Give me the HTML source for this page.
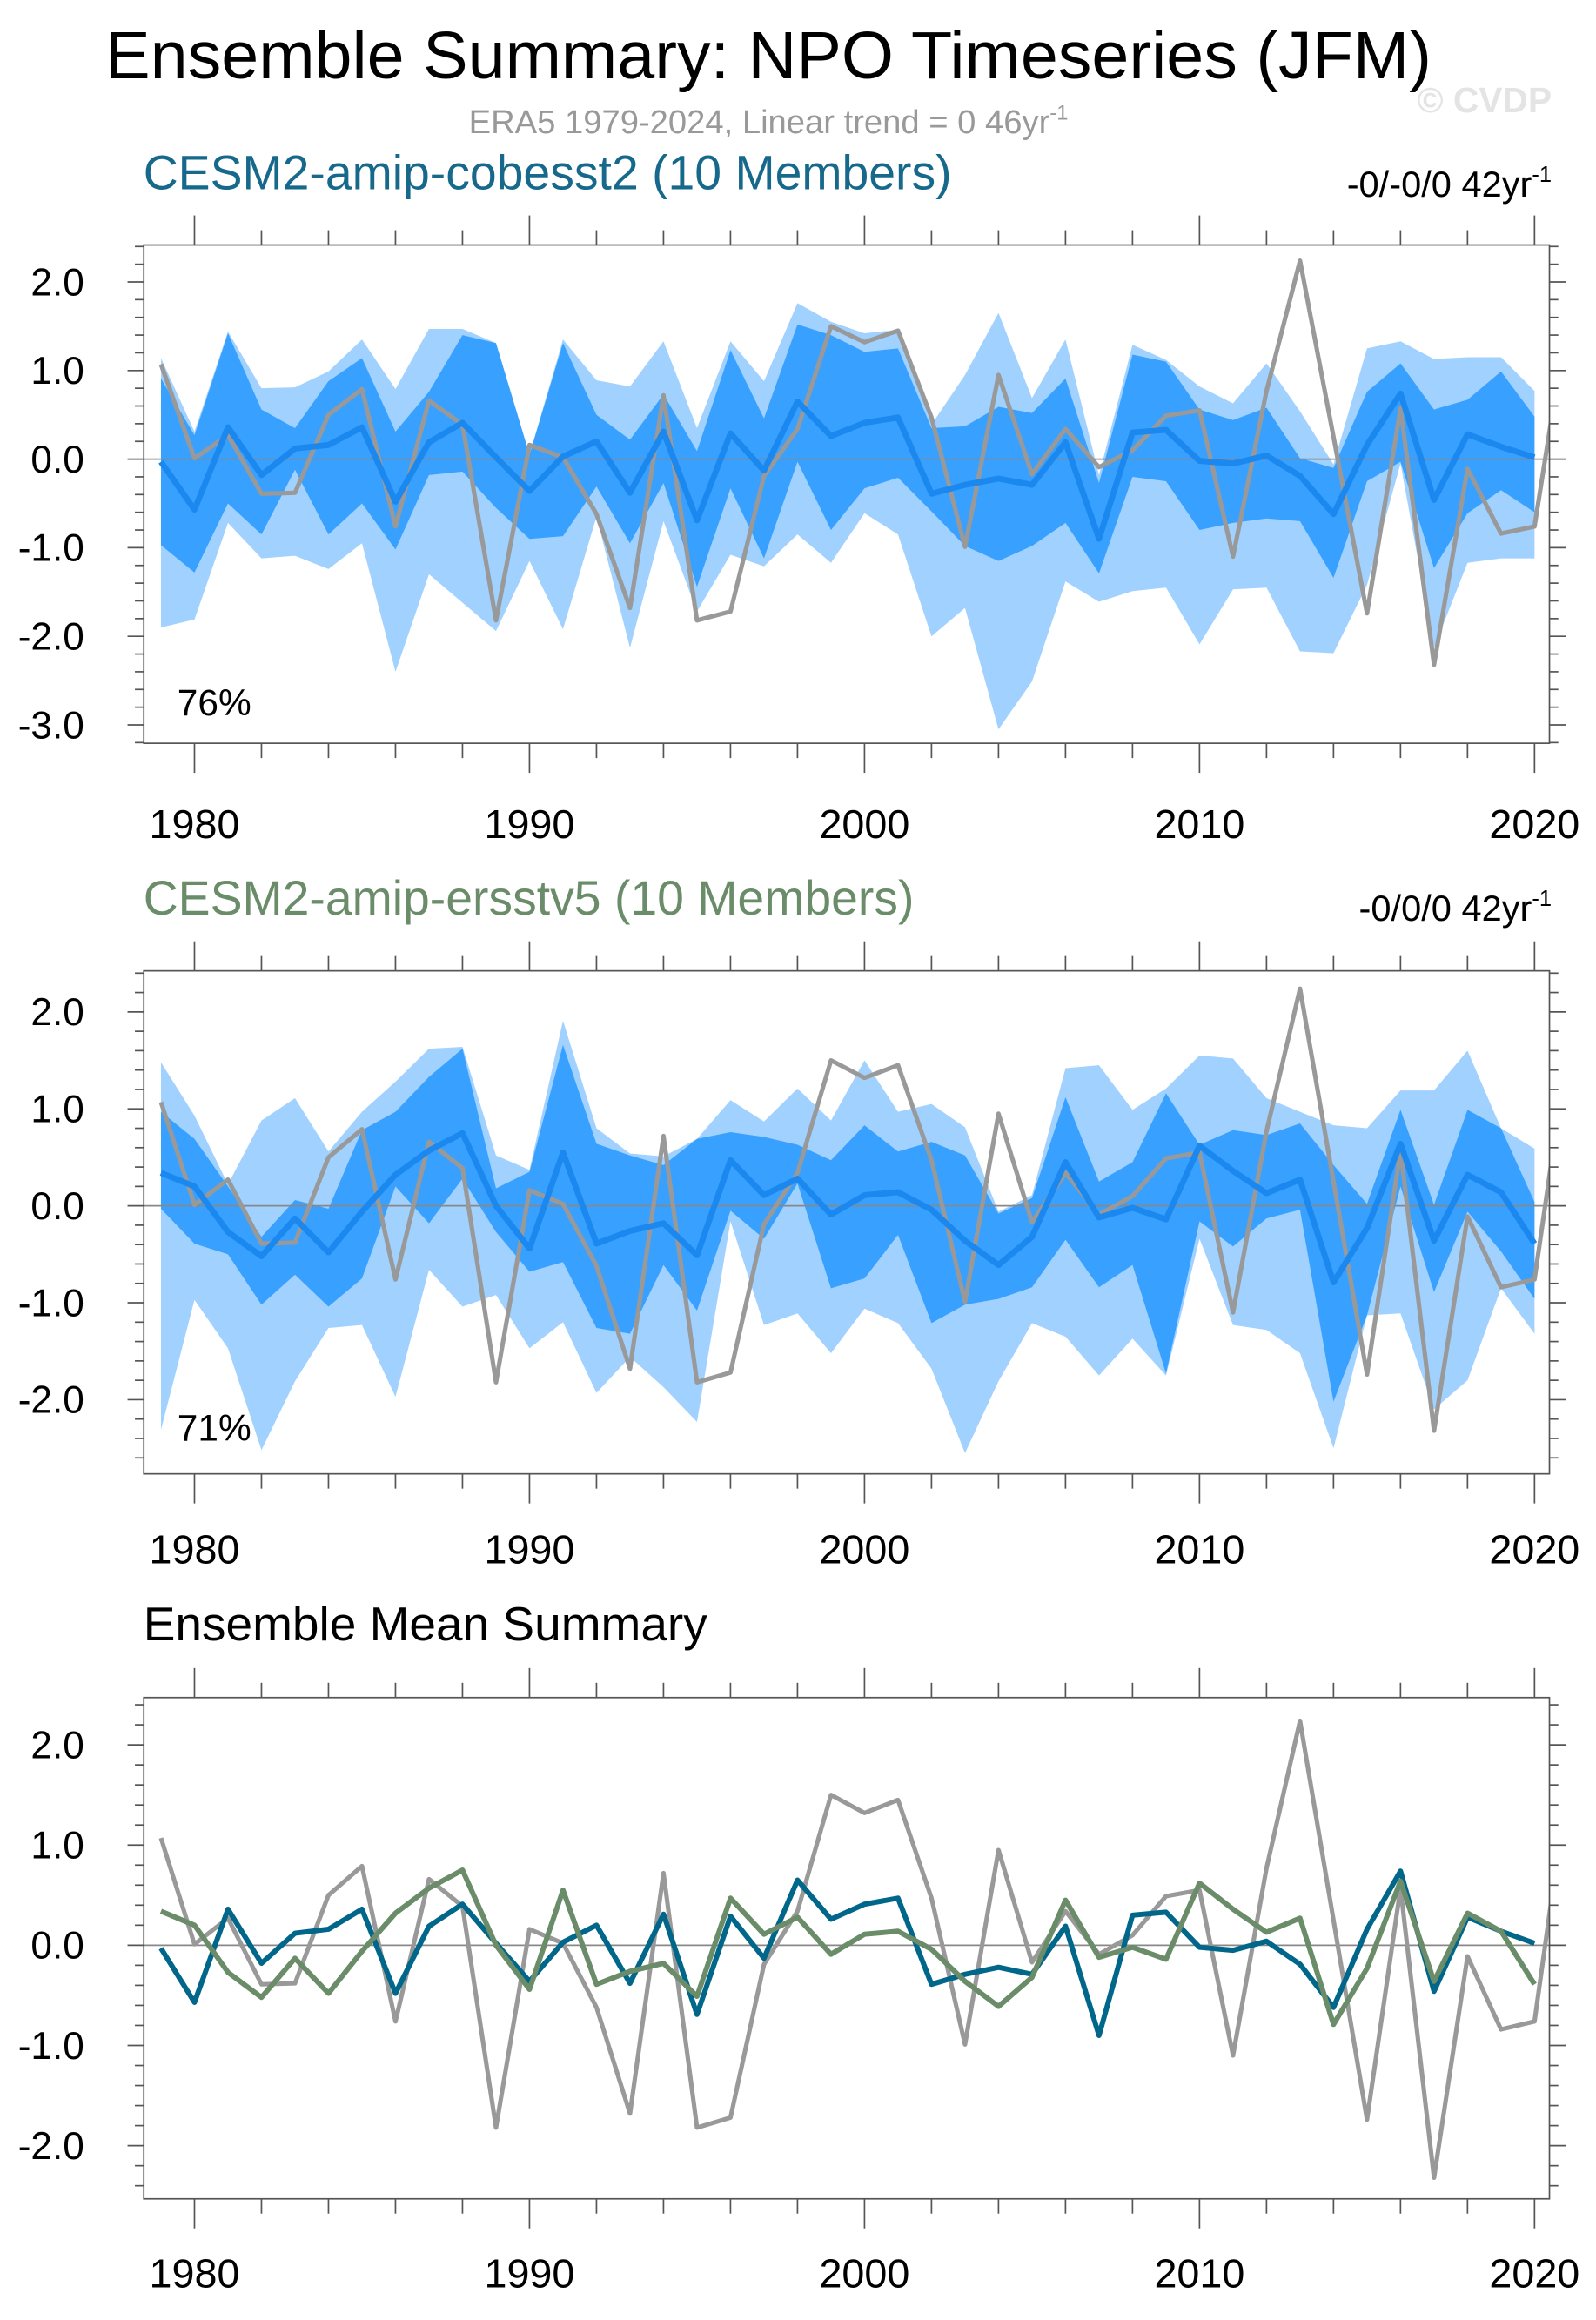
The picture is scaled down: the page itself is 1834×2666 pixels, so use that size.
<!DOCTYPE html>
<html><head><meta charset="utf-8"><style>
html,body{margin:0;padding:0;background:#fff;}
svg{display:block;font-family:"Liberation Sans",sans-serif;}
</style></head><body>
<svg id="chart" width="1834" height="2666" viewBox="0 0 1080 1570" preserveAspectRatio="none" xmlns="http://www.w3.org/2000/svg">
<text x="520" y="53" font-size="45.5" text-anchor="middle" fill="#000">Ensemble Summary: NPO Timeseries (JFM)</text>
<text x="520" y="90" font-size="22.5" text-anchor="middle" fill="#999">ERA5 1979-2024, Linear trend = 0 46yr<tspan dy="-9" font-size="14">-1</tspan></text>
<text x="1050" y="76" font-size="24" font-weight="bold" text-anchor="end" fill="#e4e4e4">© CVDP</text>
<text x="97" y="128" font-size="32.6" fill="#17698c">CESM2-amip-cobesst2 (10 Members)</text>
<text x="1050" y="133" font-size="24.5" text-anchor="end" fill="#000">-0/-0/0 42yr<tspan dy="-10" font-size="15">-1</tspan></text>
<text x="97" y="619" font-size="32.6" fill="#6a8c69">CESM2-amip-ersstv5 (10 Members)</text>
<text x="1050" y="623" font-size="24.5" text-anchor="end" fill="#000">-0/0/0 42yr<tspan dy="-10" font-size="15">-1</tspan></text>
<text x="97" y="1110" font-size="32.4" fill="#000">Ensemble Mean Summary</text>
<g id="g1"></g>
<g id="g2"></g>
<g id="g3"></g>
</svg>
<script>
const years = [1979,1980,1981,1982,1983,1984,1985,1986,1987,1988,1989,1990,1991,1992,1993,1994,1995,1996,1997,1998,1999,2000,2001,2002,2003,2004,2005,2006,2007,2008,2009,2010,2011,2012,2013,2014,2015,2016,2017,2018,2019,2020];
const eraYears = [1979,1980,1981,1982,1983,1984,1985,1986,1987,1988,1989,1990,1991,1992,1993,1994,1995,1996,1997,1998,1999,2000,2001,2002,2003,2004,2005,2006,2007,2008,2009,2010,2011,2012,2013,2014,2015,2016,2017,2018,2019,2020,2021];
const era5 = [1.07,0.01,0.27,-0.39,-0.38,0.5,0.79,-0.76,0.66,0.39,-1.82,0.16,0.02,-0.62,-1.68,0.72,-1.82,-1.72,-0.19,0.34,1.5,1.32,1.45,0.47,-0.99,0.95,-0.17,0.34,-0.09,0.1,0.49,0.55,-1.1,0.77,2.24,0.25,-1.74,0.57,-2.32,-0.11,-0.84,-0.76,1.64];
const meanCobe = [-0.03,-0.57,0.36,-0.18,0.12,0.16,0.36,-0.48,0.19,0.41,0.02,-0.36,0.03,0.2,-0.38,0.31,-0.69,0.29,-0.13,0.65,0.26,0.41,0.47,-0.39,-0.29,-0.22,-0.29,0.19,-0.9,0.3,0.33,-0.02,-0.05,0.04,-0.19,-0.62,0.16,0.74,-0.46,0.28,0.14,0.02];
const meanErsst = [0.34,0.2,-0.27,-0.52,-0.13,-0.48,-0.06,0.32,0.57,0.75,0.0,-0.44,0.55,-0.39,-0.26,-0.18,-0.51,0.47,0.11,0.28,-0.09,0.11,0.14,-0.04,-0.36,-0.61,-0.32,0.45,-0.12,-0.02,-0.14,0.62,0.36,0.13,0.27,-0.79,-0.23,0.64,-0.36,0.32,0.14,-0.39];
// Panel 1 spread bands
const cobeMax = [1.14,0.31,1.44,0.8,0.81,0.99,1.35,0.79,1.47,1.47,1.31,0.05,1.35,0.89,0.82,1.33,0.35,1.33,0.88,1.76,1.55,1.42,1.46,0.39,0.95,1.65,0.69,1.35,-0.18,1.29,1.12,0.82,0.63,1.08,0.54,-0.06,1.25,1.33,1.13,1.15,1.15,0.77];
const cobeHi = [0.91,0.27,1.42,0.56,0.35,0.88,1.14,0.31,0.76,1.4,1.31,0.05,1.31,0.5,0.22,0.73,0.09,1.23,0.46,1.52,1.4,1.21,1.25,0.35,0.37,0.59,0.52,0.91,-0.27,1.18,1.1,0.56,0.44,0.58,0.01,-0.1,0.76,1.08,0.56,0.67,0.99,0.48];
const cobeLo = [-0.97,-1.28,-0.5,-0.85,-0.12,-0.85,-0.5,-1.02,-0.18,-0.14,-0.55,-0.9,-0.87,-0.31,-0.95,-0.27,-1.44,-0.33,-1.12,-0.03,-0.8,-0.33,-0.21,-0.59,-0.98,-1.15,-0.98,-0.72,-1.29,-0.2,-0.25,-0.8,-0.72,-0.67,-0.7,-1.34,-0.25,-0.03,-1.23,-0.61,-0.35,-0.6];
const cobeMin = [-1.9,-1.81,-0.72,-1.12,-1.09,-1.24,-0.95,-2.4,-1.3,-1.62,-1.94,-1.15,-1.92,-0.65,-2.13,-0.7,-1.72,-1.08,-1.21,-0.85,-1.17,-0.61,-0.85,-2.0,-1.68,-3.05,-2.51,-1.38,-1.61,-1.49,-1.45,-2.09,-1.47,-1.45,-2.17,-2.19,-1.42,-0.05,-2.13,-1.17,-1.12,-1.12];
// Panel 2 spread bands
const ersMax = [1.48,0.93,0.22,0.88,1.11,0.56,0.97,1.28,1.62,1.64,0.52,0.37,1.91,0.8,0.54,0.51,0.69,1.09,0.87,1.21,0.88,1.5,0.97,1.05,0.81,-0.06,0.11,1.42,1.45,0.99,1.21,1.55,1.52,1.11,0.97,0.83,0.8,1.19,1.19,1.6,0.8,0.59];
const ersHi = [0.97,0.69,0.2,-0.32,0.06,-0.03,0.78,0.97,1.33,1.62,0.18,0.35,1.66,0.64,0.52,0.42,0.69,0.76,0.71,0.63,0.47,0.83,0.56,0.66,0.52,-0.08,0.08,1.12,0.25,0.45,1.16,0.63,0.78,0.73,0.85,0.42,0.02,0.99,0.01,0.99,0.8,0.04];
const ersLo = [-0.03,-0.39,-0.5,-1.02,-0.71,-1.04,-0.75,0.2,-0.18,0.28,-0.27,-0.68,-0.58,-1.26,-1.32,-0.61,-1.08,-0.05,-0.34,0.23,-0.85,-0.75,-0.3,-1.21,-1.02,-0.96,-0.84,-0.35,-0.84,-0.61,-1.73,-0.16,-0.42,-0.13,-0.04,-2.02,-1.13,0.2,-0.89,-0.06,-0.47,-0.96];
const ersMin = [-2.31,-0.97,-1.47,-2.52,-1.81,-1.26,-1.23,-1.97,-0.66,-1.04,-0.92,-1.47,-1.2,-1.93,-1.56,-1.87,-2.23,-0.16,-1.23,-1.11,-1.52,-1.06,-1.21,-1.68,-2.55,-1.81,-1.21,-1.35,-1.75,-1.37,-1.75,-0.34,-1.23,-1.28,-1.52,-2.5,-1.13,-1.11,-2.1,-1.8,-0.85,-1.32];
const ticks1 = ["-3.0","-2.0","-1.0","0.0","1.0","2.0"];
const ticks2 = ["-2.0","-1.0","0.0","1.0","2.0"];
const xTickLabels = ["1980","1990","2000","2010","2020"];

const NS = "http://www.w3.org/2000/svg";
const LEFT = 97.3, RIGHT = 1048.5;
function xs(yr){ return 131.6 + (yr - 1980) * 22.67; }
function mk(tag, attrs, parent){
  const e = document.createElementNS(NS, tag);
  for (const k in attrs) e.setAttribute(k, attrs[k]);
  parent.appendChild(e);
  return e;
}
function ptsOf(xv, yv, ys){ return xv.map((x,i)=> xs(x).toFixed(2)+","+ys(yv[i]).toFixed(2)).join(" "); }
function bandPts(hi, lo, ys){
  const a = years.map((y,i)=> xs(y).toFixed(2)+","+ys(hi[i]).toFixed(2));
  const b = years.map((y,i)=> xs(y).toFixed(2)+","+ys(lo[i]).toFixed(2)).reverse();
  return a.concat(b).join(" ");
}
function panel(g, id, top, bottom, y0, ppu, tickLabels, xLabelY){
  const ys = v => y0 - v * ppu;
  const clip = mk("clipPath", {id: "clip"+id}, g);
  mk("rect", {x: LEFT, y: top, width: RIGHT-LEFT, height: bottom-top}, clip);
  const plot = mk("g", {"clip-path": "url(#clip"+id+")"}, g);
  
  
  const box = mk("rect", {x: LEFT, y: top, width: RIGHT-LEFT, height: bottom-top, fill: "none", stroke: "#555", "stroke-width": 1}, g);
  
  
  for (let yr = 1978; yr <= 2020; yr += 2){
    const x = xs(yr); if (x < LEFT || x > RIGHT) continue;
    const major = yr % 10 === 0;
    const L = major ? 20 : 10;
    const t1 = mk("line", {x1: x, x2: x, y1: top, y2: top - L, stroke: "#555", "stroke-width": 1}, g);
    
    
    const t2 = mk("line", {x1: x, x2: x, y1: bottom, y2: bottom + L, stroke: "#555", "stroke-width": 1}, g);
    
    
  }
  xTickLabels.forEach(lbl => {
    const t = mk("text", {x: xs(+lbl), y: xLabelY, "font-size": 27.5, "text-anchor": "middle", fill: "#000"}, g);
    t.textContent = lbl;
    
    
  });
  for (let k = -40; k <= 30; k++){
    const v = k / 5; const y = ys(v);
    if (y < top - 0.5 || y > bottom + 0.5) continue;
    const major = k % 5 === 0;
    const L = major ? 11 : 6;
    const a = mk("line", {x1: LEFT, x2: LEFT - L, y1: y, y2: y, stroke: "#555", "stroke-width": 1}, g);
    
    
    const b = mk("line", {x1: RIGHT, x2: RIGHT + L, y1: y, y2: y, stroke: "#555", "stroke-width": 1}, g);
    
    
  }
  tickLabels.forEach(lbl => {
    const t = mk("text", {x: 57, y: ys(parseFloat(lbl)) + 9, "font-size": 26, "text-anchor": "end", fill: "#000"}, g);
    t.textContent = lbl;
    
    
  });
  return {plot, ys};
}
function zeroLine(plot, ys){
  const z = mk("line", {x1: LEFT, x2: RIGHT, y1: ys(0), y2: ys(0), stroke: "#888", "stroke-width": 1}, plot);
  
  
}
function bands(plot, ys, mx, hi, lo, mn, mean, name){
  const outer = mk("polygon", {points: bandPts(mx, mn, ys), fill: "#a0d1ff"}, plot);
  
  
  const inner = mk("polygon", {points: bandPts(hi, lo, ys), fill: "#38a0ff"}, plot);
  
  
  zeroLine(plot, ys);
  const era = mk("polyline", {points: ptsOf(eraYears, era5, ys), fill: "none", stroke: "#999", "stroke-width": 3, "stroke-linejoin": "round"}, plot);
  
  
  const m = mk("polyline", {points: ptsOf(years, mean, ys), fill: "none", stroke: "#1a88ee", "stroke-width": 4, "stroke-linejoin": "round"}, plot);
  
  
}
const p1 = panel(document.getElementById("g1"), "1", 165.8, 503, 310.7, 59.95, ticks1, 567);
bands(p1.plot, p1.ys, cobeMax, cobeHi, cobeLo, cobeMin, meanCobe, "cobesst2");
const pc1 = mk("text", {x: 120, y: 484, "font-size": 25, fill: "#000"}, document.getElementById("g1"));
pc1.textContent = "76%";


const p2 = panel(document.getElementById("g2"), "2", 657, 997.4, 816, 65.6, ticks2, 1058);
bands(p2.plot, p2.ys, ersMax, ersHi, ersLo, ersMin, meanErsst, "ersstv5");
const pc2 = mk("text", {x: 120, y: 975, "font-size": 25, fill: "#000"}, document.getElementById("g2"));
pc2.textContent = "71%";


const p3 = panel(document.getElementById("g3"), "3", 1148.8, 1488, 1316.4, 67.8, ticks2, 1548);
zeroLine(p3.plot, p3.ys);
const l3a = mk("polyline", {points: ptsOf(eraYears, era5, p3.ys), fill: "none", stroke: "#999", "stroke-width": 3, "stroke-linejoin": "round"}, p3.plot);


const l3b = mk("polyline", {points: ptsOf(years, meanCobe, p3.ys), fill: "none", stroke: "#00668a", "stroke-width": 3.5, "stroke-linejoin": "round"}, p3.plot);


const l3c = mk("polyline", {points: ptsOf(years, meanErsst, p3.ys), fill: "none", stroke: "#6a8c69", "stroke-width": 3.5, "stroke-linejoin": "round"}, p3.plot);


</script>
</body></html>
